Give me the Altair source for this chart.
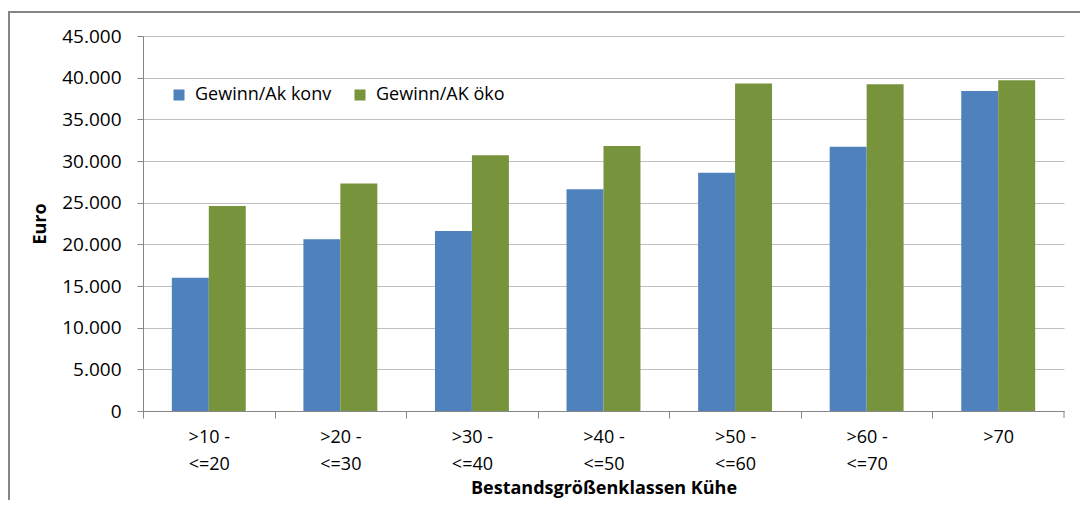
import altair as alt
import pandas as pd

categories = [">10 -|<=20", ">20 -|<=30", ">30 -|<=40", ">40 -|<=50", ">50 -|<=60", ">60 -|<=70", ">70"]
series_names = ["Gewinn/Ak konv", "Gewinn/AK öko"]
konv = [16000, 20600, 21600, 26600, 28600, 31700, 38400]
oeko = [24600, 27300, 30700, 31800, 39300, 39200, 39700]
colors = ["#4F81BD", "#77933C"]

rows = []
for c, a, b in zip(categories, konv, oeko):
    rows.append({"cat": c, "series": series_names[0], "value": a})
    rows.append({"cat": c, "series": series_names[1], "value": b})
df = pd.DataFrame(rows)

W, H = 921, 375
step = W / len(categories)
FONT = "Open Sans"

bars = alt.Chart(df).mark_bar().encode(
    x=alt.X("cat:N", sort=categories,
            scale=alt.Scale(paddingInner=0, paddingOuter=0),
            axis=alt.Axis(title="Bestandsgrößenklassen Kühe", labelExpr="split(datum.label, '|')",
                          labelAngle=0, tickOffset=-step / 2, labelOffset=step / 2,
                          tickSize=7, tickColor="#868686",
                          domainColor="#868686", labelFontSize=18, labelColor="#000000",
                          labelPadding=10, labelLineHeight=27, titleFontSize=18, titleFontWeight="bold",
                          titleColor="#000000", titlePadding=6, grid=False, labelBaseline="top")),
    xOffset=alt.XOffset("series:N", sort=series_names,
                        scale=alt.Scale(paddingInner=0, paddingOuter=0.78)),
    y=alt.Y("value:Q", scale=alt.Scale(domain=[0, 45000], nice=False),
            axis=alt.Axis(title="Euro", values=list(range(0, 45001, 5000)),
                          labelExpr="replace(format(datum.value, ',d'), ',', '.')",
                          tickSize=6, tickColor="#868686", domainColor="#868686",
                          gridColor="#BFBFBF", labelFontSize=19, labelColor="#000000",
                          labelPadding=16, titleFontSize=18, titleFontWeight="bold",
                          titleColor="#000000", titlePadding=12)),
    color=alt.Color("series:N", sort=series_names,
                    scale=alt.Scale(domain=series_names, range=colors),
                    legend=alt.Legend(title=None, orient="none", legendX=27, legendY=50,
                                      direction="horizontal", symbolType="square", symbolSize=121,
                                      symbolStrokeWidth=0, labelFontSize=18, labelColor="#000000",
                                      labelOffset=7, columnPadding=19)),
)

end_tick = alt.Chart(alt.Data(values=[{}])).mark_rule(color="#868686").encode(
    x=alt.value(W), y=alt.value(H), y2=alt.value(H + 7)
)

frame = alt.Chart(alt.Data(values=[{}])).mark_rect(fill=None, stroke="#868686", strokeWidth=2).encode(
    x=alt.value(-134), x2=alt.value(W + 200), y=alt.value(-24), y2=alt.value(H + 200)
)

chart = alt.layer(frame, bars, end_tick).properties(
    width=W, height=H, autosize="none",
    padding={"left": 135, "top": 28, "right": 16, "bottom": 89},
).configure(font=FONT).configure_view(stroke=None)

chart.save("out.html", embed_options={"renderer": "svg", "actions": False})
